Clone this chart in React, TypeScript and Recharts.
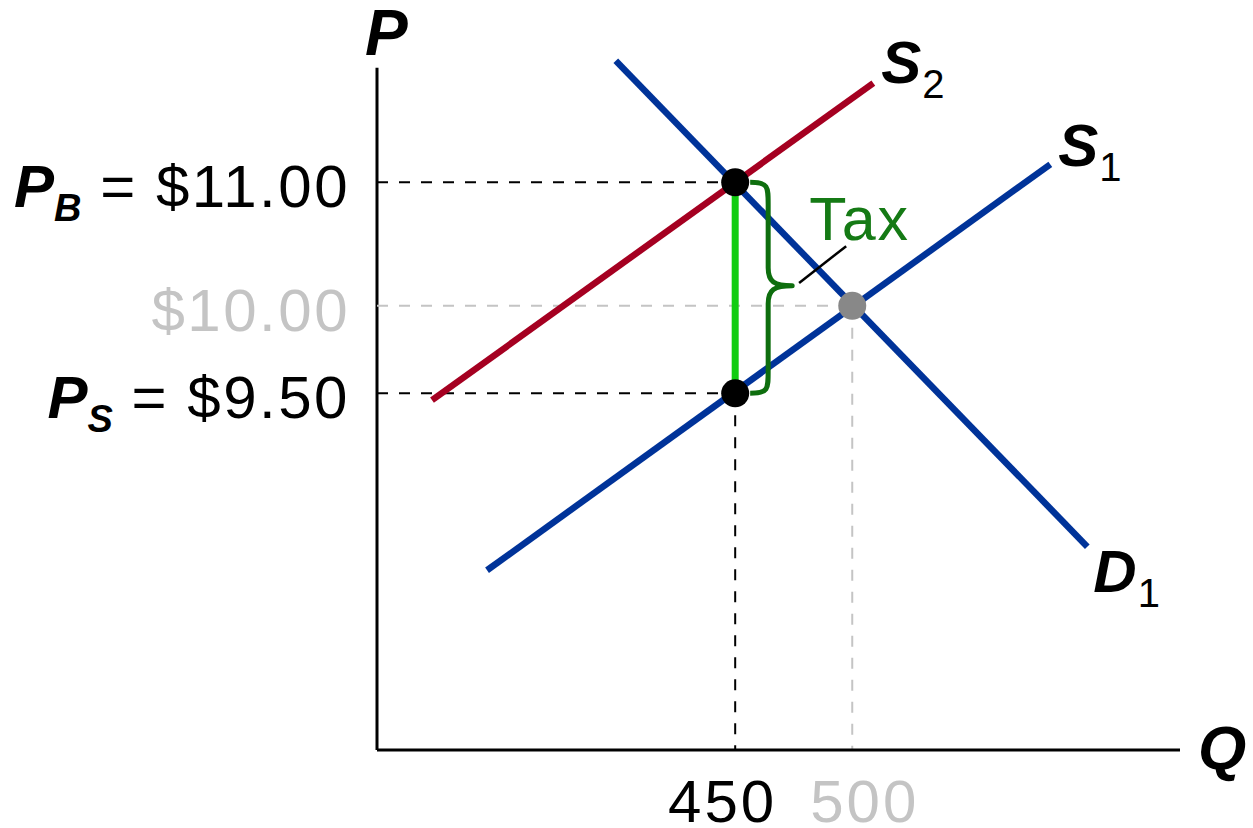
import { ComposedChart, Line, Scatter, XAxis, YAxis, ReferenceLine } from 'recharts';

const FONT = '"Liberation Sans", Arial, Helvetica, sans-serif';

// horizontal axis: quantity
const quantityTicks = [450, 500];
const quantityTickLabels = ['450', '500'];
const quantityTickColors = ['#000000', '#c4c4c4'];

// vertical axis: price levels (schematic, not drawn to scale)
const priceTicks = [81.8, 64.0, 51.4];
const priceTickLabels = ['$11.00', '$10.00', '$9.50'];
const priceTickSubscripts = ['B', '', 'S'];
const priceTickColors = ['#000000', '#c4c4c4', '#000000'];

// curves
const demandD1 = [
  { q: 399, p: 99.3 },
  { q: 600.4, p: 29.3 },
];
const supplyS1 = [
  { q: 344, p: 25.9 },
  { q: 584.6, p: 84.4 },
];
const supplyS2 = [
  { q: 320.5, p: 50.4 },
  { q: 509, p: 96.1 },
];

// points
const taxPoints = [
  { q: 450, p: 81.8 },
  { q: 450, p: 51.4 },
];
const oldEquilibrium = [{ q: 500, p: 64.0 }];

// dashed guides
const guideBuyer = [
  { q: 297, p: 81.8 },
  { q: 450, p: 81.8 },
];
const guideSeller = [
  { q: 297, p: 51.4 },
  { q: 450, p: 51.4 },
];
const guideQ450 = [
  { q: 450, p: 51.4 },
  { q: 450, p: 0 },
];
const guideP0 = [
  { q: 297, p: 64.0 },
  { q: 500, p: 64.0 },
];
const guideQ500 = [
  { q: 500, p: 64.0 },
  { q: 500, p: 0 },
];

const BLUE = '#003399';
const RED = '#a50021';

function PriceTick(props: any) {
  const { x, y, payload } = props;
  const i = priceTicks.indexOf(payload.value);
  if (i < 0) return null;
  const sub = priceTickSubscripts[i];
  return (
    <text
      x={x}
      y={y + 25}
      textAnchor="end"
      fontFamily={FONT}
      fontSize={60}
      fill={priceTickColors[i]}
      style={{ whiteSpace: 'pre' }}
    >
      {sub && (
        <tspan fontWeight="bold" fontStyle="italic">
          P
        </tspan>
      )}
      {sub && (
        <tspan fontWeight="bold" fontStyle="italic" fontSize={38} dy={14}>
          {sub}
        </tspan>
      )}
      {sub && (
        <tspan dy={-14} letterSpacing={2}>
          {' = '}
        </tspan>
      )}
      <tspan letterSpacing={2.5}>{priceTickLabels[i]}</tspan>
    </text>
  );
}

function QuantityTick(props: any) {
  const { x, y, payload } = props;
  const i = quantityTicks.indexOf(payload.value);
  if (i < 0) return null;
  return (
    <text
      x={i === 0 ? x + 42 : x - 42}
      y={y + 72}
      textAnchor={i === 0 ? 'end' : 'start'}
      fontFamily={FONT}
      fontSize={60}
      letterSpacing={3}
      fill={quantityTickColors[i]}
    >
      {quantityTickLabels[i]}
    </text>
  );
}

function curveLabel(name: string, sub: string, dx: number, dy: number) {
  return (props: any) => (
    <text x={props.cx + dx} y={props.cy + dy} fontFamily={FONT} fontSize={60} fill="#000">
      <tspan fontWeight="bold" fontStyle="italic">
        {name}
      </tspan>
      <tspan fontSize={40} dx={1} dy={15}>
        {sub}
      </tspan>
    </text>
  );
}

function YAxisLine(props: any) {
  const { x1, y1, x2, y2 } = props;
  return (
    <g>
      <line x1={x1} y1={y1} x2={x2} y2={y2} stroke="#000" strokeWidth={3} />
      <text
        x={x2 - 12}
        y={Math.min(y1, y2) - 13}
        fontFamily={FONT}
        fontSize={64}
        fontWeight="bold"
        fontStyle="italic"
        fill="#000"
      >
        P
      </text>
    </g>
  );
}

function Brace(props: any) {
  const { x1, y1, y2 } = props;
  const top = Math.min(y1, y2);
  const bot = Math.max(y1, y2);
  const xs = x1 + 18;
  const tip = x1 + 42;
  const ym = (top + bot) / 2 - 2;
  const d = [
    `M ${x1} ${top}`,
    `C ${xs} ${top}, ${xs} ${top + 4}, ${xs} ${top + 22}`,
    `L ${xs} ${ym - 18}`,
    `C ${xs} ${ym - 4}, ${xs + 6} ${ym}, ${tip} ${ym}`,
    `C ${xs + 6} ${ym}, ${xs} ${ym + 4}, ${xs} ${ym + 18}`,
    `L ${xs} ${bot - 22}`,
    `C ${xs} ${bot - 4}, ${xs} ${bot}, ${x1} ${bot}`,
  ].join(' ');
  return <path d={d} fill="none" stroke="#0e6e0e" strokeWidth={5} strokeLinejoin="round" />;
}

function TaxLeader(props: any) {
  const { x1, y1, x2, y2 } = props;
  return (
    <g>
      <line x1={x1} y1={y1} x2={x2} y2={y2} stroke="#000" strokeWidth={2.5} />
      <text x={x2 - 37} y={y2 - 6} fontFamily={FONT} fontSize={61} letterSpacing={2} fill="#157a15">
        Tax
      </text>
    </g>
  );
}

function QLabel(props: any) {
  const { viewBox } = props;
  if (!viewBox) return null;
  return (
    <text
      x={viewBox.x + viewBox.width + 18}
      y={viewBox.y + 19}
      fontFamily={FONT}
      fontSize={62}
      fontWeight="bold"
      fontStyle="italic"
      fill="#000"
    >
      Q
    </text>
  );
}

export default function App() {
  return (
    <div style={{ position: 'absolute', left: 0, top: 0, width: 1253, height: 828, background: '#fff' }}>
      <ComposedChart width={1253} height={828} margin={{ top: 56, right: 73, bottom: 0, left: 0 }}>
        <XAxis
          type="number"
          dataKey="q"
          domain={[297, 640]}
          ticks={quantityTicks}
          interval={0}
          height={78}
          axisLine={{ stroke: '#000', strokeWidth: 3 }}
          tickLine={false}
          tickSize={0}
          tickMargin={0}
          tick={<QuantityTick />}
          label={<QLabel />}
        />
        <YAxis
          type="number"
          dataKey="p"
          domain={[0, 100]}
          ticks={priceTicks}
          interval={0}
          width={377}
          axisLine={false}
          tickLine={false}
          tickSize={0}
          tickMargin={27}
          tick={<PriceTick />}
        />
        <ReferenceLine
          segment={[
            { x: 297, y: 0 },
            { x: 297, y: 98.3 },
          ]}
          ifOverflow="visible"
          shape={YAxisLine}
        />

        <Line data={guideP0} dataKey="p" stroke="#c4c4c4" strokeWidth={2} strokeDasharray="11 11" dot={false} activeDot={false} isAnimationActive={false} />
        <Line data={guideQ500} dataKey="p" stroke="#c4c4c4" strokeWidth={2} strokeDasharray="11 11" dot={false} activeDot={false} isAnimationActive={false} />
        <Line data={guideBuyer} dataKey="p" stroke="#000" strokeWidth={2} strokeDasharray="11 11" dot={false} activeDot={false} isAnimationActive={false} />
        <Line data={guideSeller} dataKey="p" stroke="#000" strokeWidth={2} strokeDasharray="11 11" dot={false} activeDot={false} isAnimationActive={false} />
        <Line data={guideQ450} dataKey="p" stroke="#000" strokeWidth={2} strokeDasharray="11 11" dot={false} activeDot={false} isAnimationActive={false} />

        <Line data={supplyS2} dataKey="p" stroke={RED} strokeWidth={6.5} dot={false} activeDot={false} isAnimationActive={false} />
        <Line data={supplyS1} dataKey="p" stroke={BLUE} strokeWidth={6.5} dot={false} activeDot={false} isAnimationActive={false} />
        <Line data={demandD1} dataKey="p" stroke={BLUE} strokeWidth={6.5} dot={false} activeDot={false} isAnimationActive={false} />
        <Line data={taxPoints} dataKey="p" stroke="#11cc11" strokeWidth={7} dot={false} activeDot={false} isAnimationActive={false} />

        <ReferenceLine
          segment={[
            { x: 456.4, y: 81.8 },
            { x: 456.4, y: 51.4 },
          ]}
          ifOverflow="visible"
          shape={Brace}
        />
        <ReferenceLine
          segment={[
            { x: 477.3, y: 67.3 },
            { x: 497.4, y: 72.6 },
          ]}
          ifOverflow="visible"
          shape={TaxLeader}
        />

        <Scatter
          data={oldEquilibrium}
          dataKey="p"
          isAnimationActive={false}
          shape={(p: any) => <circle cx={p.cx} cy={p.cy} r={14} fill="#888888" />}
        />
        <Scatter
          data={taxPoints}
          dataKey="p"
          isAnimationActive={false}
          shape={(p: any) => <circle cx={p.cx} cy={p.cy} r={14} fill="#000" />}
        />

        <Scatter data={[supplyS2[1]]} dataKey="p" isAnimationActive={false} shape={curveLabel('S', '2', 8, 0)} />
        <Scatter data={[supplyS1[1]]} dataKey="p" isAnimationActive={false} shape={curveLabel('S', '1', 8, 2)} />
        <Scatter data={[demandD1[1]]} dataKey="p" isAnimationActive={false} shape={curveLabel('D', '1', 6, 45)} />
      </ComposedChart>
    </div>
  );
}
